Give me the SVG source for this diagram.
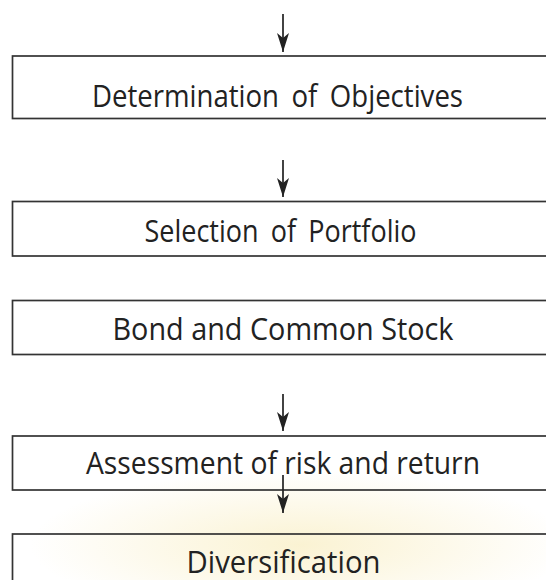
<svg xmlns="http://www.w3.org/2000/svg" width="546" height="580" viewBox="0 0 546 580">
  <defs>
    <marker id="ah" markerUnits="userSpaceOnUse" markerWidth="20" markerHeight="14" viewBox="-19 -7 20 14" refX="0" refY="0" orient="auto" overflow="visible">
      <path d="M0,0 L-19,-6 L-14,0 L-19,6 Z" fill="#222"/>
    </marker>
    <radialGradient id="wm" cx="0.5" cy="0.5" r="0.5">
      <stop offset="0" stop-color="#f6e6a6" stop-opacity="0.5"/>
      <stop offset="1" stop-color="#f6e6a6" stop-opacity="0"/>
    </radialGradient>
  </defs>
  <style>
    .box { fill: none; stroke: #333; stroke-width: 1.7; }
    .lbl { font-family: "Open Sans", "DejaVu Sans", sans-serif; font-size: 31px; fill: #222; text-anchor: middle; }
    .wide { word-spacing: 6px; }
    .conn line { stroke: #222; stroke-width: 1.7; marker-end: url(#ah); }
  </style>
  <rect width="546" height="580" fill="#fff"/>
  <ellipse cx="300" cy="545" rx="270" ry="75" fill="url(#wm)"/>

  <g id="n1">
    <rect class="box" x="12.5" y="56" width="560" height="62.5"/>
    <text class="lbl wide" x="277.5" y="107" textLength="371" lengthAdjust="spacingAndGlyphs">Determination of Objectives</text>
  </g>
  <g id="n2">
    <rect class="box" x="12.5" y="201.5" width="560" height="54.5"/>
    <text class="lbl wide" x="280.5" y="241.5" textLength="272" lengthAdjust="spacingAndGlyphs">Selection of Portfolio</text>
  </g>
  <g id="n3">
    <rect class="box" x="12.5" y="300.5" width="560" height="54"/>
    <text class="lbl" x="283" y="340" textLength="341" lengthAdjust="spacingAndGlyphs">Bond and Common Stock</text>
  </g>
  <g id="n4">
    <rect class="box" x="12.5" y="436" width="560" height="54"/>
    <text class="lbl" x="283" y="474" textLength="394" lengthAdjust="spacingAndGlyphs">Assessment of risk and return</text>
  </g>
  <g id="n5">
    <rect class="box" x="12.5" y="534" width="560" height="60"/>
    <text class="lbl" x="283.5" y="573" textLength="194" lengthAdjust="spacingAndGlyphs">Diversification</text>
  </g>

  <g id="connectors" class="conn">
    <line x1="283" y1="14" x2="283" y2="52"/>
    <line x1="283" y1="160" x2="283" y2="197"/>
    <line x1="283" y1="394" x2="283" y2="431"/>
    <line x1="283" y1="475" x2="283" y2="513"/>
  </g>
</svg>
